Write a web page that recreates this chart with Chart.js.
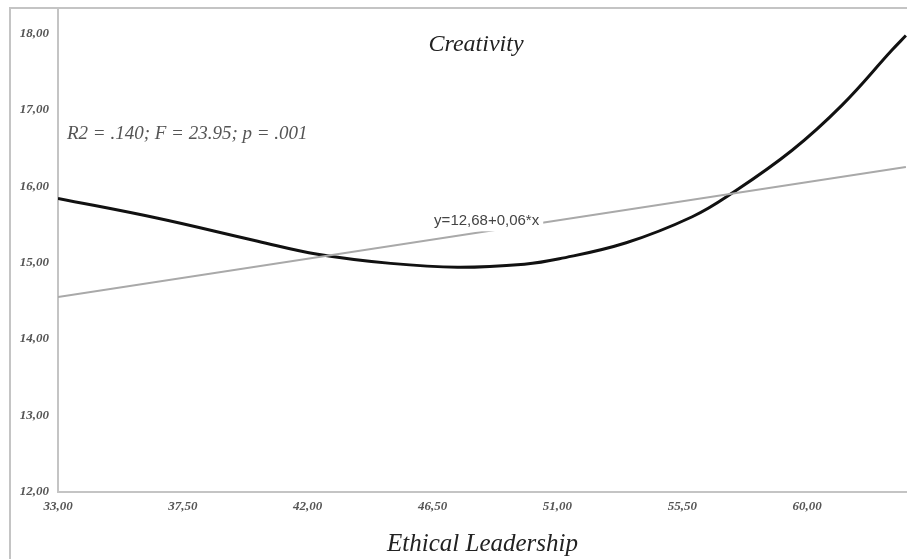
<!DOCTYPE html>
<html>
<head>
<meta charset="utf-8">
<script src="https://cdn.jsdelivr.net/npm/chart.js@4"></script>
<style>
  html, body { margin: 0; padding: 0; background: #fff; }
  #wrap { width: 907px; height: 559px; }
</style>
</head>
<body>
<div id="wrap"><canvas id="curveChart" width="907" height="559"></canvas></div>
<script>
// Data
const xTicks = [33, 37.5, 42, 46.5, 51, 55.5, 60];
const yTicks = [12, 13, 14, 15, 16, 17, 18];

// cubic fit (black curve)
const cubicX = [33, 36.6, 40.2, 42.36, 44.99, 47.4, 49.81, 51.07, 53.48, 55.86, 57.3, 59.46, 61.26, 63.06, 63.56];
const cubicY = [15.84, 15.58, 15.28, 15.11, 14.99, 14.94, 14.98, 15.05, 15.26, 15.6, 15.91, 16.47, 17.06, 17.78, 17.97];

// linear fit (grey line)
const linearX = [33, 63.56];
const linearY = [14.55, 16.25];

const chartTitle = 'Creativity';
const xTitle = 'Ethical Leadership';
const statsText = 'R2 = .140; F = 23.95; p = .001';
const eqText = 'y=12,68+0,06*x';
const eqPos = { x: 48.45, y: 15.54 };

const fmt = v => v.toFixed(2).replace('.', ',');
const serif = '"Liberation Serif", "DejaVu Serif", serif';

// Frame, title and annotations
const decorations = {
  id: 'decorations',
  beforeDraw(chart) {
    const c = chart.ctx;
    c.save();
    c.strokeStyle = '#c4c4c4';
    c.lineWidth = 2;
    c.beginPath();
    c.moveTo(10, 559);
    c.lineTo(10, 8);
    c.lineTo(907, 8);
    c.stroke();
    c.restore();
  },
  afterDatasetsDraw(chart) {
    const c = chart.ctx;
    const xs = chart.scales.x, ys = chart.scales.y;
    c.save();
    c.fillStyle = '#222';
    c.font = 'italic 24px ' + serif;
    c.textAlign = 'center';
    c.textBaseline = 'middle';
    c.fillText(chartTitle, 476, 45);

    c.fillStyle = '#555';
    c.font = 'italic 19px ' + serif;
    c.textAlign = 'left';
    c.fillText(statsText, 67, 134);

    // equation label with white box over the line
    const px = xs.getPixelForValue(eqPos.x);
    const py = ys.getPixelForValue(eqPos.y);
    c.font = '15px "Liberation Sans", Arial, sans-serif';
    const w = c.measureText(eqText).width;
    c.fillStyle = '#fff';
    c.fillRect(px - w / 2 - 2, py - 8, w + 6, 18);
    c.fillStyle = '#444';
    c.textAlign = 'center';
    c.fillText(eqText, px, py);
    c.restore();
  }
};

const ctx = document.getElementById('curveChart').getContext('2d');
new Chart(ctx, {
  type: 'line',
  data: {
    datasets: [{
      label: 'Linear',
      data: linearX.map((x, i) => ({ x: x, y: linearY[i] })),
      borderColor: '#a9a9a9',
      borderWidth: 2,
      pointRadius: 0,
      tension: 0
    }, {
      label: 'Cubic',
      data: cubicX.map((x, i) => ({ x: x, y: cubicY[i] })),
      borderColor: '#111',
      borderWidth: 3,
      pointRadius: 0,
      tension: 0.4
    }]
  },
  options: {
    responsive: false,
    animation: false,
    layout: { padding: { top: 8, right: 0, left: 0, bottom: 0 } },
    plugins: {
      legend: { display: false },
      tooltip: { enabled: false }
    },
    scales: {
      x: {
        type: 'linear',
        min: 33,
        max: 63.6,
        afterBuildTicks: s => { s.ticks = xTicks.map(v => ({ value: v })); },
        afterFit: s => { s.height = 67; s.paddingLeft = 0; s.paddingRight = 0; },
        grid: { display: false, drawTicks: false },
        border: { display: true, color: '#c4c4c4', width: 2 },
        ticks: {
          padding: 7,
          maxRotation: 0,
          autoSkip: false,
          color: '#555',
          font: { family: serif, style: 'italic', size: 13, weight: 'bold' },
          callback: v => fmt(v)
        },
        title: {
          display: true,
          text: xTitle,
          color: '#222',
          padding: { top: 10, bottom: 0 },
          font: { family: serif, style: 'italic', size: 25 }
        }
      },
      y: {
        type: 'linear',
        min: 12,
        max: 18.33,
        afterBuildTicks: s => { s.ticks = yTicks.map(v => ({ value: v })); },
        afterFit: s => { s.width = 58; s.paddingTop = 0; s.paddingBottom = 0; },
        grid: { display: false, drawTicks: false },
        border: { display: true, color: '#c4c4c4', width: 2 },
        ticks: {
          padding: 9,
          autoSkip: false,
          color: '#555',
          font: { family: serif, style: 'italic', size: 13, weight: 'bold' },
          callback: v => fmt(v)
        }
      }
    }
  },
  plugins: [decorations]
});
</script>
</body>
</html>
